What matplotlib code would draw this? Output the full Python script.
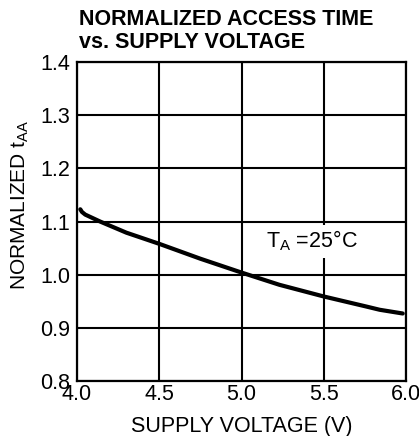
"""
Normalized access time vs. supply voltage (datasheet style curve).
"""

import matplotlib
matplotlib.use('Agg')
import matplotlib.pyplot as plt

# curve
voltage = [4.02, 4.03, 4.05, 4.14, 4.30, 4.50, 4.75, 5.00, 5.23, 5.50, 5.76, 5.84, 5.98]
t_aa = [1.123, 1.118, 1.113, 1.100, 1.079, 1.058, 1.030, 1.004, 0.981, 0.959, 0.940, 0.934, 0.927]

x_ticks = [4.0, 4.5, 5.0, 5.5, 6.0]
y_ticks = [0.8, 0.9, 1.0, 1.1, 1.2, 1.3, 1.4]

plt.rcParams['font.family'] = ['Liberation Sans', 'DejaVu Sans']
plt.rcParams['mathtext.fontset'] = 'custom'
plt.rcParams['mathtext.rm'] = 'Liberation Sans'

fig = plt.figure(figsize=(4.19, 4.36), dpi=100)
ax = fig.add_axes([0.1838, 0.1261, 0.7852, 0.7317])

ax.plot(voltage, t_aa, color='black', linewidth=3.0,
        solid_capstyle='round', solid_joinstyle='round', zorder=3)

ax.set_xlim(4.0, 6.0)
ax.set_ylim(0.8, 1.4)
ax.set_xticks(x_ticks)
ax.set_yticks(y_ticks)
ax.set_xticklabels([f'{v:.1f}' for v in x_ticks])
ax.set_yticklabels([f'{v:.1f}' for v in y_ticks])
ax.tick_params(length=0, labelsize=15.5, colors='black')
ax.tick_params(axis='x', pad=2)
ax.tick_params(axis='y', pad=5)

ax.grid(True, color='black', linewidth=1.5)
ax.set_axisbelow(True)
for spine in ax.spines.values():
    spine.set_linewidth(1.6)
    spine.set_color('black')

ax.set_xlabel('SUPPLY VOLTAGE (V)', fontsize=15.5, labelpad=8)
ax.set_ylabel(r'NORMALIZED t$_{\mathrm{AA}}$', fontsize=15)
ax.yaxis.set_label_coords(-0.14, 0.552)

ax.text(5.43, 1.063, r'T$_{\mathrm{A}}$ =25°C', fontsize=15.5, ha='center', va='center',
        bbox=dict(facecolor='white', edgecolor='none', boxstyle='square,pad=0.2'),
        zorder=2)

fig.text(0.1885, 0.9805, 'NORMALIZED ACCESS TIME\nvs. SUPPLY VOLTAGE',
         fontsize=15.5, fontweight='bold', ha='left', va='top', linespacing=1.15)

fig.savefig('out.png', dpi=100)
